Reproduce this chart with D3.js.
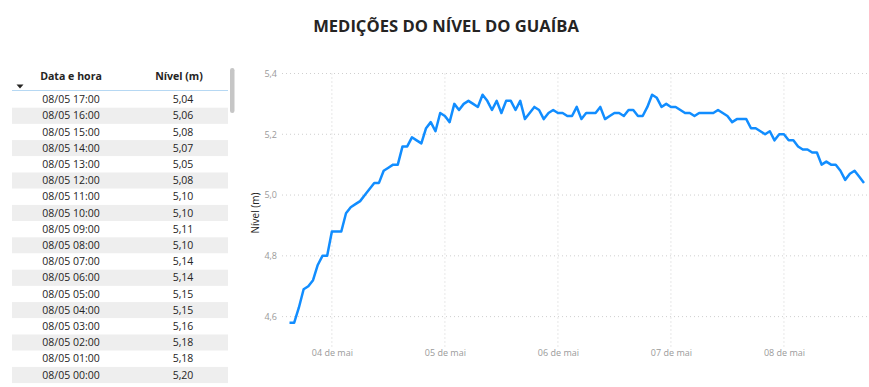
<!DOCTYPE html>
<html>
<head>
<meta charset="utf-8">
<script src="https://cdn.jsdelivr.net/npm/d3@7"></script>
<style>
  body { margin: 0; background: #fff; }
  svg text { font-family: "Open Sans", "Segoe UI", sans-serif; }
</style>
</head>
<body>
<script>
// Hourly readings, starting 03/05 15:00
var startTime = "2024-05-03T15:00:00";
var levels = [
  4.58, 4.58, 4.63, 4.69, 4.70, 4.72, 4.77, 4.80, 4.80,
  4.88, 4.88, 4.88, 4.94, 4.96, 4.97, 4.98, 5.00, 5.02, 5.04, 5.04, 5.08, 5.09, 5.10, 5.10,
  5.16, 5.16, 5.19, 5.18, 5.17, 5.22, 5.24, 5.21, 5.27,
  5.26, 5.24, 5.30, 5.28, 5.30, 5.31, 5.30, 5.29, 5.33, 5.31, 5.28, 5.31, 5.27, 5.31, 5.31,
  5.28, 5.31, 5.25, 5.27, 5.29, 5.28, 5.25, 5.27, 5.28,
  5.27, 5.27, 5.26, 5.26, 5.29, 5.25, 5.27, 5.27, 5.27, 5.29, 5.25, 5.26, 5.27, 5.27, 5.26,
  5.28, 5.28, 5.26, 5.26, 5.29, 5.33, 5.32, 5.29, 5.30,
  5.29, 5.29, 5.28, 5.27, 5.27, 5.26, 5.27, 5.27, 5.27, 5.27, 5.28, 5.27, 5.26, 5.24, 5.25,
  5.25, 5.25, 5.22, 5.22, 5.21, 5.20, 5.21, 5.18, 5.20,
  5.20, 5.18, 5.18, 5.16, 5.15, 5.15, 5.14, 5.14, 5.10, 5.11, 5.10, 5.10, 5.08, 5.05, 5.07,
  5.08, 5.06, 5.04
];

// Table (sorted newest first)
var tableTimes = ["08/05 17:00", "08/05 16:00", "08/05 15:00", "08/05 14:00", "08/05 13:00",
  "08/05 12:00", "08/05 11:00", "08/05 10:00", "08/05 09:00", "08/05 08:00", "08/05 07:00",
  "08/05 06:00", "08/05 05:00", "08/05 04:00", "08/05 03:00", "08/05 02:00", "08/05 01:00",
  "08/05 00:00"];
var tableLevels = ["5,04", "5,06", "5,08", "5,07", "5,05", "5,08", "5,10", "5,10", "5,11",
  "5,10", "5,14", "5,14", "5,15", "5,15", "5,16", "5,18", "5,18", "5,20"];

var yTicks = [4.6, 4.8, 5.0, 5.2, 5.4];

var width = 869, height = 387;

var svg = d3.select("body").append("svg")
  .attr("width", width)
  .attr("height", height);

var ptTime = d3.timeFormatLocale({
  dateTime: "%A, %e de %B de %Y. %X", date: "%d/%m/%Y", time: "%H:%M:%S",
  periods: ["AM", "PM"],
  days: ["domingo", "segunda", "terça", "quarta", "quinta", "sexta", "sábado"],
  shortDays: ["dom", "seg", "ter", "qua", "qui", "sex", "sáb"],
  months: ["janeiro", "fevereiro", "março", "abril", "maio", "junho", "julho", "agosto", "setembro", "outubro", "novembro", "dezembro"],
  shortMonths: ["jan", "fev", "mar", "abr", "mai", "jun", "jul", "ago", "set", "out", "nov", "dez"]
});
var ptNum = d3.formatLocale({ decimal: ",", thousands: ".", grouping: [3], currency: ["R$", ""] });

// Title
svg.append("text")
  .attr("x", 446).attr("y", 31.5)
  .attr("text-anchor", "middle")
  .style("font-size", "16.6px")
  .style("font-weight", "bold")
  .attr("fill", "#252423")
  .text("MEDIÇÕES DO NÍVEL DO GUAÍBA");

/* TABLE */
var rowTop = 91.5, rowH = 16.2;
var table = svg.append("g");

table.append("rect")
  .attr("x", 230).attr("y", 68).attr("width", 4.5).attr("height", 45)
  .attr("rx", 2.2).attr("fill", "#c6c6c6");

table.append("text").attr("x", 71).attr("y", 80)
  .attr("text-anchor", "middle").style("font-size", "10.6px").style("font-weight", "bold")
  .attr("fill", "#252423").text("Data e hora");
table.append("text").attr("x", 179).attr("y", 80)
  .attr("text-anchor", "middle").style("font-size", "10.6px").style("font-weight", "bold")
  .attr("fill", "#252423").text("Nível (m)");
table.append("path").attr("d", "M16.5,84.5 L23.5,84.5 L20,88.5 Z").attr("fill", "#252423");
table.append("line").attr("x1", 12).attr("x2", 228).attr("y1", 90.5).attr("y2", 90.5)
  .attr("stroke", "#b6d8f3").attr("stroke-width", 1);

var rows = table.selectAll("g.row")
  .data(tableTimes)
  .enter().append("g")
  .attr("class", "row")
  .attr("transform", function (d, i) { return "translate(0," + (rowTop + i * rowH) + ")"; });

rows.append("rect")
  .attr("x", 12).attr("width", 216).attr("height", rowH)
  .attr("fill", function (d, i) { return i % 2 ? "#eeeeee" : "#ffffff"; });
rows.append("text")
  .attr("x", 71).attr("y", rowH / 2 + 3.6).attr("text-anchor", "middle")
  .style("font-size", "10.5px").attr("fill", "#252423")
  .text(function (d) { return d; });
rows.append("text")
  .attr("x", 183).attr("y", rowH / 2 + 3.6).attr("text-anchor", "middle")
  .style("font-size", "10.5px").attr("fill", "#252423")
  .text(function (d, i) { return tableLevels[i]; });

/* LINE CHART */
var t0 = new Date(startTime);
var data = levels.map(function (v, i) {
  return { t: d3.timeHour.offset(t0, i), v: v };
});

var x = d3.scaleTime()
  .domain(d3.extent(data, function (d) { return d.t; }))
  .range([289.5, 864]);
var y = d3.scaleLinear().domain([4.5, 5.4]).range([347, 73.5]);

var grid = svg.append("g");
grid.selectAll("line.h").data(yTicks).enter().append("line")
  .attr("x1", 282).attr("x2", 868)
  .attr("y1", function (d) { return y(d); }).attr("y2", function (d) { return y(d); })
  .attr("stroke", "#cfcfcf").attr("stroke-dasharray", "1,3");
var days = x.ticks(d3.timeDay.every(1));
grid.selectAll("line.v").data(days).enter().append("line")
  .attr("x1", function (d) { return x(d); }).attr("x2", function (d) { return x(d); })
  .attr("y1", 73.5).attr("y2", 347)
  .attr("stroke", "#cfcfcf").attr("stroke-dasharray", "1,3");

var yAxis = svg.append("g")
  .attr("transform", "translate(277,0)")
  .call(d3.axisLeft(y).tickValues(yTicks).tickSize(0).tickPadding(0).tickFormat(ptNum.format(".1f")));
yAxis.select(".domain").remove();
yAxis.selectAll("text").style("font-size", "9px").attr("fill", "#9a9a9a")
  .style("font-family", "'Open Sans', sans-serif");

var xAxis = svg.append("g")
  .attr("transform", "translate(0,350)")
  .call(d3.axisBottom(x).tickValues(days).tickSize(0).tickPadding(0).tickFormat(ptTime.format("%d de %b")));
xAxis.select(".domain").remove();
xAxis.selectAll("text").style("font-size", "9px").attr("fill", "#9a9a9a")
  .style("font-family", "'Open Sans', sans-serif");

svg.append("text")
  .attr("transform", "translate(259,213) rotate(-90)")
  .attr("text-anchor", "middle")
  .style("font-size", "10px")
  .attr("fill", "#252423")
  .text("Nível (m)");

var line = d3.line()
  .x(function (d) { return x(d.t); })
  .y(function (d) { return y(d.v); });

svg.append("path")
  .datum(data)
  .attr("d", line)
  .attr("fill", "none")
  .attr("stroke", "#118DFF")
  .attr("stroke-width", 2.5)
  .attr("stroke-linejoin", "round");
</script>
</body>
</html>
